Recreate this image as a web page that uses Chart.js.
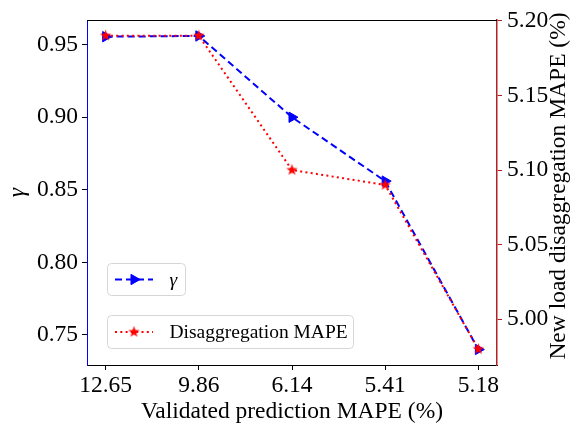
<!DOCTYPE html>
<html>
<head>
<meta charset="utf-8">
<script src="https://cdn.jsdelivr.net/npm/chart.js@4.4.1/dist/chart.umd.min.js"></script>
<style>
  html, body { margin: 0; padding: 0; background: #fff; }
</style>
</head>
<body>
<canvas id="gammaChart" width="579" height="426"></canvas>
<script>
const xLabels = ['12.65', '9.86', '6.14', '5.41', '5.18'];
const gammaValues = [0.9555, 0.956, 0.900, 0.856, 0.740];
const mapeValues = [5.19, 5.19, 5.10, 5.09, 4.98];
const gammaTicks = [0.75, 0.80, 0.85, 0.90, 0.95];
const mapeTicks = [5.00, 5.05, 5.10, 5.15, 5.20];

const serif = "'Liberation Serif', 'Times New Roman', serif";
const spineRed = '#b22222';

// filled five point star, used as the marker of the MAPE line
function makeStar(size, color) {
    const c = document.createElement('canvas');
    c.width = size;
    c.height = size;
    const ctx = c.getContext('2d');
    const cx = size / 2, cy = size / 2;
    const outer = size / 2 - 0.5, inner = outer * 0.4;
    ctx.beginPath();
    for (let i = 0; i < 10; i++) {
        const r = i % 2 ? inner : outer;
        const a = -Math.PI / 2 + i * Math.PI / 5;
        ctx.lineTo(cx + r * Math.cos(a), cy + r * Math.sin(a));
    }
    ctx.closePath();
    ctx.fillStyle = color;
    ctx.fill();
    return c;
}
const starMarker = makeStar(13, '#ff0000');

const toPoints = (vals) => vals.map((v, i) => ({ x: i, y: v }));

// top spine, right axis title (reads bottom to top) and the two legend boxes
const extrasPlugin = {
    id: 'extras',
    afterDraw(chart) {
        const ctx = chart.ctx;
        const area = chart.chartArea;
        ctx.save();
        ctx.strokeStyle = '#000';
        ctx.lineWidth = 1;
        ctx.beginPath();
        ctx.moveTo(area.left, area.top + 0.5);
        ctx.lineTo(area.right, area.top + 0.5);
        ctx.stroke();

        ctx.save();
        ctx.translate(565, 186);
        ctx.rotate(-Math.PI / 2);
        ctx.fillStyle = '#000';
        ctx.font = '23.5px ' + serif;
        ctx.textAlign = 'center';
        ctx.textBaseline = 'alphabetic';
        ctx.fillText('New load disaggregation MAPE (%)', 0, 0);
        ctx.restore();

        const boxes = [
            { ds: chart.data.datasets[1], x: 107.5, y: 263.5, w: 78, h: 32, text: 'γ', italic: true },
            { ds: chart.data.datasets[0], x: 107.5, y: 315.5, w: 246, h: 33, text: 'Disaggregation MAPE', italic: false }
        ];
        boxes.forEach(b => {
            ctx.beginPath();
            ctx.roundRect(b.x, b.y, b.w, b.h, 4);
            ctx.fillStyle = 'rgba(255,255,255,0.8)';
            ctx.fill();
            ctx.strokeStyle = '#d6d6d6';
            ctx.lineWidth = 1;
            ctx.stroke();

            const cy = b.y + b.h / 2;
            ctx.save();
            ctx.setLineDash(b.ds.borderDash);
            ctx.strokeStyle = b.ds.borderColor;
            ctx.lineWidth = b.ds.borderWidth;
            ctx.beginPath();
            ctx.moveTo(115, cy);
            ctx.lineTo(153, cy);
            ctx.stroke();
            ctx.restore();

            ctx.save();
            ctx.fillStyle = b.ds.pointBackgroundColor;
            ctx.strokeStyle = b.ds.pointBorderColor;
            ctx.lineWidth = 1;
            Chart.helpers.drawPoint(ctx, {
                pointStyle: b.ds.pointStyle,
                rotation: b.ds.pointRotation || 0,
                radius: b.ds.pointRadius,
                borderWidth: 1
            }, 134, cy);
            ctx.restore();

            ctx.fillStyle = '#000';
            ctx.font = (b.italic ? 'italic ' : '') + '19.5px ' + serif;
            ctx.textAlign = 'left';
            ctx.textBaseline = 'middle';
            ctx.fillText(b.text, 169.5, cy + 1);
        });
        ctx.restore();
    }
};

const tickFont = { family: serif, size: 23.5 };

new Chart(document.getElementById('gammaChart'), {
    type: 'line',
    data: {
        datasets: [
            {
                label: 'Disaggregation MAPE',
                data: toPoints(mapeValues),
                yAxisID: 'yMape',
                borderColor: '#ff0000',
                borderWidth: 2,
                borderDash: [2, 3.3],
                pointStyle: starMarker,
                pointRadius: 7,
                pointBackgroundColor: '#ff0000',
                pointBorderColor: '#ff0000',
                fill: false,
                tension: 0,
                order: 1
            },
            {
                label: 'γ',
                data: toPoints(gammaValues),
                yAxisID: 'yGamma',
                borderColor: '#0000ff',
                borderWidth: 2,
                borderDash: [7, 4],
                pointStyle: 'triangle',
                pointRotation: 90,
                pointRadius: 6,
                pointBorderWidth: 1,
                pointBackgroundColor: '#0000ff',
                pointBorderColor: '#0000ff',
                fill: false,
                tension: 0,
                order: 2
            }
        ]
    },
    options: {
        responsive: false,
        animation: false,
        events: [],
        layout: { padding: { top: 20, left: 0, right: 0, bottom: 0 } },
        plugins: {
            legend: { display: false },
            tooltip: { enabled: false }
        },
        scales: {
            x: {
                type: 'linear',
                min: -0.2,
                max: 4.2,
                afterBuildTicks: (scale) => { scale.ticks = xLabels.map((_, i) => ({ value: i })); },
                afterFit: (scale) => { scale.height = 61; },
                border: { color: '#000', width: 1 },
                grid: { drawOnChartArea: false, tickLength: 5, tickColor: '#000' },
                ticks: {
                    font: tickFont,
                    color: '#000',
                    padding: 2,
                    maxRotation: 0,
                    callback: (v) => xLabels[v]
                },
                title: {
                    display: true,
                    text: 'Validated prediction MAPE (%)',
                    color: '#000',
                    font: { family: serif, size: 23.5 },
                    padding: { top: 8, bottom: 0 }
                }
            },
            yGamma: {
                type: 'linear',
                position: 'left',
                min: 0.7293,
                max: 0.967,
                afterBuildTicks: (scale) => { scale.ticks = gammaTicks.map(v => ({ value: v })); },
                afterFit: (scale) => { scale.width = 87; },
                border: { color: '#0000ff', width: 1 },
                grid: { drawOnChartArea: false, tickLength: 5, tickColor: '#000' },
                ticks: {
                    font: tickFont,
                    color: '#000',
                    padding: 4,
                    callback: (v) => v.toFixed(2)
                },
                title: {
                    display: true,
                    text: 'γ',
                    color: '#000',
                    font: { family: serif, size: 23.5, style: 'italic', lineHeight: 1 },
                    padding: { top: 6, bottom: 0 }
                }
            },
            yMape: {
                type: 'linear',
                position: 'right',
                min: 4.9694,
                max: 5.2005,
                afterBuildTicks: (scale) => { scale.ticks = mapeTicks.map(v => ({ value: v })); },
                afterFit: (scale) => { scale.width = 82; },
                border: { color: spineRed, width: 1.5 },
                grid: { drawOnChartArea: false, tickLength: 5, tickColor: spineRed },
                ticks: {
                    font: tickFont,
                    color: '#000',
                    padding: 5,
                    callback: (v) => v.toFixed(2)
                }
            }
        }
    },
    plugins: [extrasPlugin]
});
</script>
</body>
</html>
